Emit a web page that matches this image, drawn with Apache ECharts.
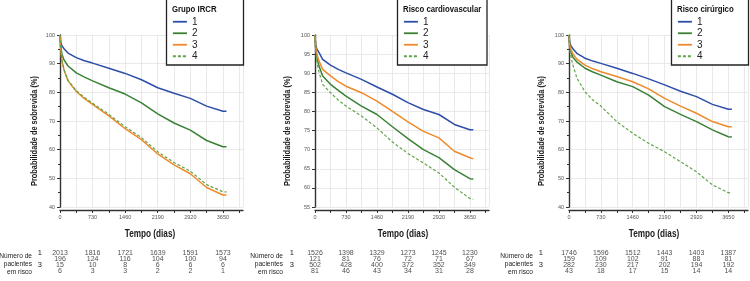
<!DOCTYPE html>
<html>
<head>
<meta charset="utf-8">
<script src="https://cdn.jsdelivr.net/npm/echarts@6/dist/echarts.min.js"></script>
<style>
html, body { margin: 0; padding: 0; background: #fff; }
#chart { width: 750px; height: 281px; }
</style>
</head>
<body>
<div id="chart"></div>
<script>
const days = [0, 15, 45, 90, 180, 365, 548, 730, 1095, 1460, 1825, 2190, 2555, 2920, 3285, 3650, 3730];
const tickDays = [0, 730, 1460, 2190, 2920, 3650];
const groupNames = ['1', '2', '3', '4'];
const panelTitles = ['Grupo IRCR', 'Risco cardiovascular', 'Risco cirúrgico'];

// Grupo IRCR
const ircr1 = [100, 97.5, 96.2, 95.2, 93.7, 92.1, 91.0, 90.2, 88.4, 86.6, 84.4, 81.6, 79.7, 77.9, 75.2, 73.4, 73.4];
const ircr2 = [100, 96.0, 93.2, 91.3, 89.2, 86.8, 85.3, 84.0, 81.6, 79.4, 76.3, 72.5, 69.3, 66.8, 63.2, 61.0, 61.0];
const ircr3 = [100, 95.0, 91.0, 87.8, 84.0, 80.3, 77.8, 75.8, 71.8, 67.3, 63.5, 58.5, 54.7, 51.6, 46.8, 44.2, 44.2];
const ircr4 = [100, 95.0, 91.0, 87.9, 84.2, 80.6, 78.2, 76.2, 72.3, 68.0, 64.2, 59.3, 55.5, 52.5, 47.8, 45.3, 45.3];

// Risco cardiovascular
const cv1 = [100, 97.5, 96.3, 95.5, 93.6, 92.1, 91.0, 90.1, 88.4, 86.4, 84.5, 82.3, 80.5, 79.2, 76.6, 75.2, 75.2];
const cv2 = [100, 96.5, 94.0, 92.0, 89.3, 87.1, 85.5, 84.0, 81.4, 79.2, 76.0, 72.9, 70.0, 67.9, 64.8, 62.4, 62.3];
const cv3 = [100, 97.0, 95.0, 93.3, 91.0, 89.3, 87.8, 86.6, 84.9, 82.7, 80.0, 77.3, 74.8, 73.1, 69.6, 67.9, 67.6];
const cv4 = [100, 96.0, 93.0, 90.5, 87.1, 84.9, 83.0, 81.4, 78.8, 75.7, 72.0, 69.0, 66.5, 63.9, 60.2, 57.2, 57.0];

// Risco cirurgico
const cir1 = [100, 97.5, 96.2, 95.2, 93.6, 91.9, 90.9, 90.1, 88.4, 86.6, 84.7, 82.6, 80.4, 78.5, 75.8, 74.1, 74.1];
const cir2 = [100, 96.0, 94.0, 92.2, 90.6, 88.4, 87.1, 86.0, 83.7, 82.0, 79.0, 75.0, 72.3, 69.8, 66.9, 64.5, 64.4];
const cir3 = [100, 96.5, 95.0, 93.4, 91.6, 89.5, 88.2, 87.2, 85.5, 83.7, 81.2, 77.9, 75.2, 72.7, 69.8, 68.0, 68.0];
const cir4 = [100, 95.0, 92.5, 89.5, 85.0, 80.2, 77.3, 75.2, 69.8, 65.7, 62.2, 59.3, 55.8, 52.3, 47.7, 45.0, 44.9];

// numbers at risk, one row per group, one column per tick day
const ircrRisk1 = [2013, 1816, 1721, 1639, 1591, 1573];
const ircrRisk2 = [196, 124, 116, 104, 100, 94];
const ircrRisk3 = [15, 10, 8, 6, 6, 6];
const ircrRisk4 = [6, 3, 3, 2, 2, 1];
const cvRisk1 = [1526, 1398, 1329, 1273, 1245, 1230];
const cvRisk2 = [121, 81, 76, 72, 71, 67];
const cvRisk3 = [502, 428, 400, 372, 352, 349];
const cvRisk4 = [81, 46, 43, 34, 31, 28];
const cirRisk1 = [1746, 1596, 1512, 1443, 1403, 1387];
const cirRisk2 = [159, 109, 102, 91, 88, 81];
const cirRisk3 = [282, 230, 217, 202, 194, 192];
const cirRisk4 = [43, 18, 17, 15, 14, 14];

const plainFont = "'Liberation Sans', Arial, sans-serif";
const curveColors = ['#2d4ea8', '#3a8136', '#ee8a2b', '#5fa449'];
const xMax = 4100;
// no condensed face is installed, so the narrow bold labels are squeezed horizontally
const narrow = 0.82;

const panels = [
	{ curves: [ircr1, ircr2, ircr3, ircr4], risk: [ircrRisk1, ircrRisk2, ircrRisk3, ircrRisk4], yMin: 40, yStep: 10,
		left: 60, width: 183, rowGap: 18, riskTextX: 32, boxLeft: 166.5, boxWidth: 77, yNameX: 35, xNameX: 150 },
	{ curves: [cv1, cv2, cv3, cv4], risk: [cvRisk1, cvRisk2, cvRisk3, cvRisk4], yMin: 55, yStep: 5,
		left: 315, width: 174, rowGap: 21, riskTextX: 283, boxLeft: 397.5, boxWidth: 89.5, yNameX: 288, xNameX: 403 },
	{ curves: [cir1, cir2, cir3, cir4], risk: [cirRisk1, cirRisk2, cirRisk3, cirRisk4], yMin: 40, yStep: 10,
		left: 569, width: 179, rowGap: 26, riskTextX: 533, boxLeft: 671.5, boxWidth: 77, yNameX: 542, xNameX: 654 }
];

const axisLineStyle = { color: '#333', width: 1.4 };
const gridLineStyle = { color: '#e3e3e3', width: 0.8 };

const grids = [];
const xAxes = [];
const yAxes = [];
const series = [];
const legends = [];
const graphics = [];

function narrowText( text, x, y, size, opts ) {
	return Object.assign( {
		type: 'text', z: 10, x: x, y: y, scaleX: narrow,
		style: {
			text: text, x: 0, y: 0, align: 'center', verticalAlign: 'middle',
			font: 'bold ' + size + 'px ' + plainFont, fill: '#1a1a1a'
		}
	}, opts || {} );
}

panels.forEach( ( p, i ) => {
	grids.push( { left: p.left, top: 35, width: p.width, height: 172 } );

	xAxes.push( {
		gridIndex: i, type: 'value', min: 0, max: xMax, interval: 365, offset: 3,
		axisLine: { lineStyle: axisLineStyle },
		axisTick: { length: 3, lineStyle: { color: '#333', width: 1 } },
		axisLabel: {
			fontSize: 5.5, color: '#555', margin: 4, showMaxLabel: false,
			formatter: ( v ) => ( v % 730 === 0 ? String( v ) : '' )
		},
		splitLine: { show: true, lineStyle: gridLineStyle }
	} );

	yAxes.push( {
		gridIndex: i, type: 'value', min: p.yMin, max: 100, interval: p.yStep, offset: 2,
		axisLine: { show: true, lineStyle: axisLineStyle },
		axisTick: { show: true, length: 3, lineStyle: { color: '#333', width: 1 } },
		minorTick: { show: p.yStep === 10, splitNumber: 2, length: 2, lineStyle: { color: '#333' } },
		axisLabel: { fontSize: 5.5, color: '#555', margin: 3 },
		splitLine: { show: true, lineStyle: gridLineStyle }
	} );

	p.curves.forEach( ( curve, k ) => {
		series.push( {
			type: 'line', name: groupNames[ k ], xAxisIndex: i, yAxisIndex: i,
			data: days.map( ( d, j ) => [ d, curve[ j ] ] ),
			symbol: 'none', showSymbol: false, silent: true,
			lineStyle: {
				color: curveColors[ k ],
				width: k === 3 ? 1.2 : 1.5,
				type: k === 3 ? [ 3, 2 ] : 'solid'
			},
			itemStyle: { color: curveColors[ k ] }
		} );
	} );

	legends.push( {
		data: groupNames, orient: 'vertical', left: p.boxLeft + 5.5, top: 16, padding: 0,
		itemWidth: 14, itemHeight: 6, itemGap: 0, selectedMode: false, z: 10,
		itemStyle: { opacity: 0 },
		lineStyle: { width: 1.8 },
		textStyle: { fontSize: 10, lineHeight: 11.5, color: '#222', fontFamily: plainFont }
	} );

	// legend frame and its heading
	graphics.push( {
		type: 'rect', z: 5,
		shape: { x: p.boxLeft, y: -1, width: p.boxWidth, height: 66 },
		style: { fill: '#fff', stroke: '#222', lineWidth: 1.3 }
	} );
	graphics.push( narrowText( panelTitles[ i ], p.boxLeft + 5.5, 9.5, 9.5, {
		style: { text: panelTitles[ i ], x: 0, y: 0, align: 'left', verticalAlign: 'middle',
			font: 'bold 9.5px ' + plainFont, fill: '#111' }
	} ) );

	// axis titles
	graphics.push( narrowText( 'Probabilidade de sobrevida (%)', p.yNameX, 131, 9, { rotation: Math.PI / 2 } ) );
	graphics.push( narrowText( 'Tempo (dias)', p.xNameX, 234, 10 ) );

	graphics.push( {
		type: 'text', z: 5, x: p.riskTextX, y: 263.5, scaleX: 0.88,
		style: {
			text: 'Número de\npacientes\nem risco', x: 0, y: 0,
			align: 'right', verticalAlign: 'middle', lineHeight: 8,
			font: '7.5px ' + plainFont, fill: '#222'
		}
	} );
} );

// number-at-risk tables, laid out on their own grids under each panel
panels.forEach( ( p, i ) => {
	const gi = panels.length + i;
	grids.push( { left: p.left, top: 249.5, width: p.width, height: 25 } );
	xAxes.push( { gridIndex: gi, type: 'value', min: 0, max: xMax, show: false } );
	yAxes.push( {
		gridIndex: gi, type: 'category', data: groupNames, inverse: true,
		axisLine: { show: false }, axisTick: { show: false }, splitLine: { show: false },
		axisLabel: { fontSize: 7.5, color: '#222', margin: p.rowGap, fontFamily: plainFont }
	} );

	const cells = [];
	p.risk.forEach( ( row, r ) => {
		row.forEach( ( n, c ) => {
			cells.push( [ tickDays[ c ], r, n ] );
		} );
	} );
	series.push( {
		type: 'scatter', xAxisIndex: gi, yAxisIndex: gi, symbolSize: 0, silent: true,
		data: cells,
		label: {
			show: true, position: 'inside', fontSize: 7, color: '#222', fontFamily: plainFont,
			formatter: ( d ) => String( d.value[ 2 ] )
		}
	} );
} );

const chart = echarts.init( document.getElementById( 'chart' ), null, { renderer: 'canvas' } );
chart.setOption( {
	animation: false,
	backgroundColor: '#fff',
	grid: grids,
	xAxis: xAxes,
	yAxis: yAxes,
	legend: legends,
	graphic: graphics,
	series: series
} );
</script>
</body>
</html>
